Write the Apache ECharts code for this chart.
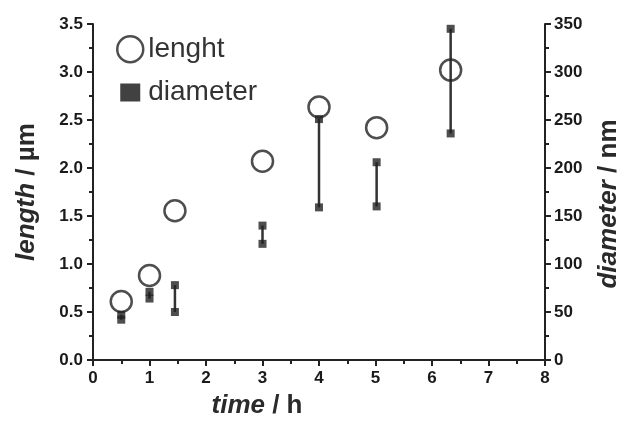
<!DOCTYPE html>
<html>
<head>
<meta charset="utf-8">
<script src="https://cdn.jsdelivr.net/npm/echarts@6/dist/echarts.min.js"></script>
<style>html,body{margin:0;padding:0;background:#fff;}#c{width:621px;height:428px;}</style>
</head>
<body>
<div id="c"></div>
<script>
// time (h) for each sample
var timeValues = [0.5, 1.0, 1.45, 3.0, 4.0, 5.02, 6.33];
// length (µm), open circles, left axis
var lengthValues = [0.61, 0.88, 1.555, 2.07, 2.635, 2.42, 3.02];
// diameter range (nm), filled squares, right axis
var diameterLow = [42, 64, 50, 121, 159, 160, 236];
var diameterHigh = [47, 71, 78, 140, 251, 206, 345];
// axis ticks
var xTicks = [0, 1, 2, 3, 4, 5, 6, 7, 8];
var lengthTicks = [0.0, 0.5, 1.0, 1.5, 2.0, 2.5, 3.0, 3.5];
var diameterTicks = [0, 50, 100, 150, 200, 250, 300, 350];

var lengthData = timeValues.map(function (t, i) { return [t, lengthValues[i]]; });
var rangeData = timeValues.map(function (t, i) { return [t, diameterLow[i], diameterHigh[i]]; });
var squareData = [];
timeValues.forEach(function (t, i) {
  squareData.push([t, diameterLow[i]]);
  squareData.push([t, diameterHigh[i]]);
});

var axisColor = '#222';
var tickFont = { fontFamily: 'Liberation Sans, Arial, sans-serif', fontWeight: 'bold', fontSize: 17, color: '#1a1a1a' };
var nameRich = {
  i: { fontFamily: 'Liberation Sans, Arial, sans-serif', fontStyle: 'italic', fontWeight: 'bold', fontSize: 26, color: '#2a2a2a' },
  n: { fontFamily: 'Liberation Sans, Arial, sans-serif', fontWeight: 'bold', fontSize: 26, color: '#2a2a2a' }
};

var chart = echarts.init(document.getElementById('c'), null, { renderer: 'canvas' });
chart.setOption({
  animation: false,
  backgroundColor: '#fff',
  grid: { left: 93, right: 76, top: 24, bottom: 68, containLabel: false, outerBoundsMode: 'none' },
  legend: {
    orient: 'vertical',
    left: 111,
    top: 30,
    itemWidth: 26,
    itemHeight: 26,
    itemGap: 15,
    itemTextGap: 15,
    textStyle: { fontFamily: 'Liberation Sans, Arial, sans-serif', fontSize: 28, color: '#333' },
    data: [
      { name: 'lenght', icon: 'circle', itemStyle: { color: 'transparent', borderColor: '#222', borderWidth: 2.5 } },
      { name: 'diameter', icon: 'path://M0,0L0,0M26,26L26,26M3,4L23,4L23,22L3,22Z', itemStyle: { color: '#111', borderWidth: 0 } }
    ]
  },
  xAxis: {
    type: 'value', min: xTicks[0], max: xTicks[xTicks.length - 1], interval: 1,
    name: '{i|time}{n| / h}', nameLocation: 'middle', nameGap: 33,
    nameTextStyle: { rich: nameRich, padding: [0, 124, 0, 0] },
    axisLine: { show: true, onZero: false, lineStyle: { color: axisColor, width: 2 } },
    axisTick: { show: true, inside: false, length: 6, lineStyle: { color: axisColor, width: 2 } },
    minorTick: { show: true, splitNumber: 2, length: 4, lineStyle: { color: axisColor, width: 2 } },
    splitLine: { show: false },
    axisLabel: Object.assign({ margin: 10 }, tickFont)
  },
  yAxis: [{
    type: 'value', position: 'left', min: lengthTicks[0], max: lengthTicks[lengthTicks.length - 1], interval: 0.5,
    name: '{i|length}{n| / µm}', nameLocation: 'middle', nameGap: 53, nameRotate: 90,
    nameTextStyle: { rich: nameRich },
    axisLine: { show: true, onZero: false, lineStyle: { color: axisColor, width: 2 } },
    axisTick: { show: true, inside: false, length: 6, lineStyle: { color: axisColor, width: 2 } },
    minorTick: { show: true, splitNumber: 2, length: 4, lineStyle: { color: axisColor, width: 2 } },
    splitLine: { show: false },
    axisLabel: Object.assign({ margin: 10, formatter: function (v) { return v.toFixed(1); } }, tickFont)
  }, {
    type: 'value', position: 'right', min: diameterTicks[0], max: diameterTicks[diameterTicks.length - 1], interval: 50,
    name: '{i|diameter}{n| / nm}', nameLocation: 'middle', nameGap: 51, nameRotate: 90,
    nameTextStyle: { rich: nameRich, padding: [0, 24, 0, 0] },
    axisLine: { show: true, onZero: false, lineStyle: { color: axisColor, width: 2 } },
    axisTick: { show: true, inside: false, length: 6, lineStyle: { color: axisColor, width: 2 } },
    minorTick: { show: true, splitNumber: 2, length: 4, lineStyle: { color: axisColor, width: 2 } },
    splitLine: { show: false },
    axisLabel: Object.assign({ margin: 9 }, tickFont)
  }],
  series: [{
    type: 'custom',
    name: 'range',
    yAxisIndex: 1,
    data: rangeData,
    z: 1,
    renderItem: function (params, api) {
      var p1 = api.coord([api.value(0), api.value(1)]);
      var p2 = api.coord([api.value(0), api.value(2)]);
      return {
        type: 'line',
        shape: { x1: p1[0], y1: p1[1], x2: p2[0], y2: p2[1] },
        style: { stroke: '#333', lineWidth: 2.5 }
      };
    }
  }, {
    type: 'scatter',
    name: 'diameter',
    yAxisIndex: 1,
    symbol: 'rect',
    symbolSize: 8,
    data: squareData,
    z: 2,
    itemStyle: { color: '#222' }
  }, {
    type: 'scatter',
    name: 'lenght',
    yAxisIndex: 0,
    symbol: 'circle',
    symbolSize: 21,
    data: lengthData,
    z: 3,
    itemStyle: { color: 'transparent', borderColor: '#222', borderWidth: 2.5 }
  }]
});
</script>
</body>
</html>
